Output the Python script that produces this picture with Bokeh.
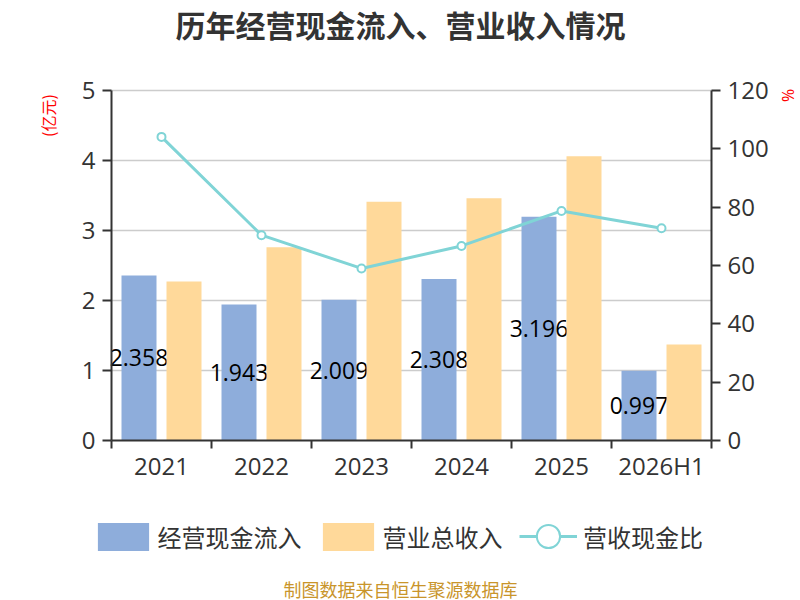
import math
from bokeh.plotting import figure
from bokeh.models import (ColumnDataSource, Range1d, LinearAxis, FixedTicker,
                          Legend, LegendItem, Label)
from bokeh.transform import dodge
from bokeh.core.properties import value
from bokeh.embed import file_html
from bokeh.resources import INLINE

# ---- data ----
years = ["2021", "2022", "2023", "2024", "2025", "2026H1"]
cash_inflow = [2.358, 1.943, 2.009, 2.308, 3.196, 0.997]   # 经营现金流入, 亿元
revenue = [2.27, 2.76, 3.41, 3.46, 4.06, 1.37]             # 营业总收入, 亿元
ratio = [104.1, 70.4, 59.0, 66.7, 78.7, 72.8]               # 营收现金比, %
left_ticks = [0, 1, 2, 3, 4, 5]
right_ticks = [0, 20, 40, 60, 80, 100, 120]

n = len(years)
centers = [i + 0.5 for i in range(n)]
bounds = [float(i) for i in range(n + 1)]

src = ColumnDataSource(dict(
    x=centers, cash=cash_inflow, rev=revenue, ratio=ratio,
    half=[v / 2 for v in cash_inflow],
    lbl=[f"{v:.3f}" for v in cash_inflow],
))
grid_src = ColumnDataSource(dict(
    x0=[0] * (len(left_ticks) - 1), x1=[n] * (len(left_ticks) - 1),
    y=left_ticks[1:],
))

BLUE = "#8EADDB"
ORANGE = "#FFD99A"
TEAL = "#80D4D6"
TXT = "#333333"
NUM_FONT = "Open Sans"
CJK = "Noto Sans CJK SC"

W, H = 800, 600
# plot area in page pixels: x 111..711 (6 categories), y 440 (0) .. 90 (5 / 120%)
PX_X = 100.0          # px per category
PX_L = 350.0 / 5      # px per 亿元
PX_R = 350.0 / 120    # px per %
X0, Y0 = 111, 440

p = figure(width=W, height=H,
           x_range=Range1d(-X0 / PX_X, (W - X0) / PX_X),
           y_range=Range1d(-(H - Y0) / PX_L, Y0 / PX_L),
           min_border=0, output_backend="svg", toolbar_location=None,
           x_axis_type=None, y_axis_type=None, title=None)
p.outline_line_color = None
p.xgrid.visible = False
p.ygrid.visible = False
p.extra_y_ranges = {"pct": Range1d(-(H - Y0) / PX_R, Y0 / PX_R)}

# grid lines (from left-axis ticks)
p.segment(x0="x0", x1="x1", y0="y", y1="y", source=grid_src,
          line_color="#cccccc", line_width=1.5)

# axes
xaxis = LinearAxis(ticker=FixedTicker(ticks=centers, minor_ticks=bounds),
                   fixed_location=0, bounds=(0, n))
xaxis.major_label_overrides = {c: y for c, y in zip(centers, years)}
xaxis.major_tick_line_color = None
xaxis.major_tick_out = 0
xaxis.major_tick_in = 0
xaxis.minor_tick_out = 8
xaxis.minor_tick_in = 0
xaxis.minor_tick_line_color = TXT
xaxis.minor_tick_line_width = 2
xaxis.axis_line_color = TXT
xaxis.axis_line_width = 2
xaxis.major_label_text_font = NUM_FONT
xaxis.major_label_text_font_size = "24px"
xaxis.major_label_text_color = TXT
xaxis.major_label_standoff = 0
p.add_layout(xaxis, "below")

yaxis = LinearAxis(ticker=FixedTicker(ticks=left_ticks, minor_ticks=[]),
                   fixed_location=0, bounds=(left_ticks[0], left_ticks[-1]))
yaxis.axis_line_color = TXT
yaxis.axis_line_width = 2
yaxis.major_tick_line_color = TXT
yaxis.major_tick_line_width = 2
yaxis.major_tick_out = 9
yaxis.major_tick_in = 0
yaxis.minor_tick_line_color = None
yaxis.major_label_text_font = NUM_FONT
yaxis.major_label_text_font_size = "24px"
yaxis.major_label_text_color = TXT
yaxis.major_label_standoff = 7
p.add_layout(yaxis, "left")

raxis = LinearAxis(y_range_name="pct",
                   ticker=FixedTicker(ticks=right_ticks, minor_ticks=[]),
                   fixed_location=n, bounds=(right_ticks[0], right_ticks[-1]))
raxis.axis_line_color = TXT
raxis.axis_line_width = 2
raxis.major_tick_line_color = TXT
raxis.major_tick_line_width = 2
raxis.major_tick_out = 9
raxis.major_tick_in = 0
raxis.minor_tick_line_color = None
raxis.major_label_text_font = NUM_FONT
raxis.major_label_text_font_size = "24px"
raxis.major_label_text_color = TXT
raxis.major_label_standoff = 7
p.add_layout(raxis, "right")

# bars and value labels (labels sit under the orange bars, as in the original)
blue_r = p.vbar(x=dodge("x", -0.225), top="cash", width=0.35, source=src,
                fill_color=BLUE, line_color=None)
p.text(x=dodge("x", -0.225), y="half", text="lbl", source=src,
       text_align="center", text_baseline="middle", text_color="#000000",
       text_font=value(NUM_FONT), text_font_size="23px")
orange_r = p.vbar(x=dodge("x", 0.225), top="rev", width=0.35, source=src,
                  fill_color=ORANGE, line_color=None)

line_r = p.line(x="x", y="ratio", source=src, y_range_name="pct",
                line_color=TEAL, line_width=3)
pts_r = p.scatter(x="x", y="ratio", source=src, y_range_name="pct", size=8,
                  marker="circle", fill_color="white", line_color=TEAL, line_width=2)

# legends (positions in screen px from the canvas bottom-left)
leg1 = Legend(items=[LegendItem(label="经营现金流入", renderers=[blue_r]),
                     LegendItem(label="营业总收入", renderers=[orange_r])],
              orientation="horizontal", location=(90.6, 46.5),
              glyph_width=64, glyph_height=35, label_standoff=3, spacing=14,
              padding=0, margin=0, border_line_color=None, background_fill_alpha=0,
              label_text_font=CJK, label_text_font_size="24px", label_text_color=TXT)
leg2 = Legend(items=[LegendItem(label="营收现金比", renderers=[line_r, pts_r])],
              orientation="horizontal", location=(519, 33),
              glyph_width=58, glyph_height=62, label_standoff=6,
              padding=0, margin=0, border_line_color=None, background_fill_alpha=0,
              label_text_font=CJK, label_text_font_size="24px", label_text_color=TXT)
p.add_layout(leg1)
p.add_layout(leg2)

# texts
p.add_layout(Label(x=400, y=H - 23, x_units="screen", y_units="screen",
                   text="历年经营现金流入、营业收入情况", text_align="center",
                   text_baseline="middle", text_font=CJK, text_font_size="30px",
                   text_font_style="bold", text_color=TXT))
p.add_layout(Label(x=400, y=H - 588, x_units="screen", y_units="screen",
                   text="制图数据来自恒生聚源数据库", text_align="center",
                   text_baseline="middle", text_font=CJK, text_font_size="18px",
                   text_color="#C9952B"))
p.add_layout(Label(x=47.5, y=H - 115, x_units="screen", y_units="screen",
                   text="(亿元)", angle=math.pi / 2, text_align="center",
                   text_baseline="middle", text_font=CJK, text_font_size="16px",
                   text_color="#FF0000"))
p.add_layout(Label(x=787, y=H - 95, x_units="screen", y_units="screen",
                   text="%", angle=math.pi / 2, text_align="center",
                   text_baseline="middle", text_font=NUM_FONT, text_font_size="16px",
                   text_color="#FF0000"))

open("out.html", "w").write(file_html(p, INLINE))
